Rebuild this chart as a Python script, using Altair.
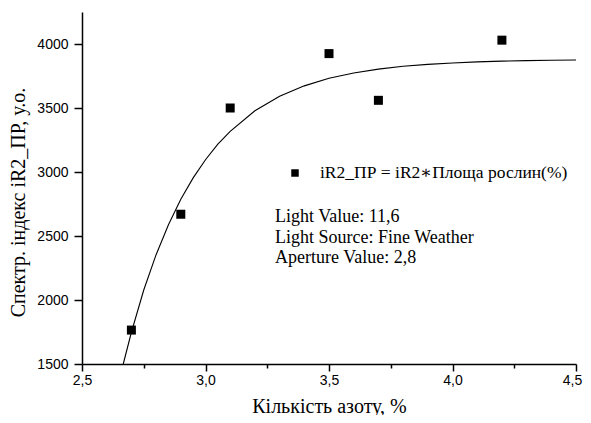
import altair as alt
import pandas as pd

# measured points
nitrogen = [2.7, 2.9, 3.1, 3.5, 3.7, 4.2]
index_ir2 = [1765, 2670, 3500, 3925, 3560, 4030]

# fitted curve
curve_x = [2.667, 2.70, 2.75, 2.80, 2.85, 2.90, 2.95, 3.00, 3.05, 3.10, 3.20, 3.30,
           3.40, 3.50, 3.60, 3.70, 3.80, 3.90, 4.00, 4.10, 4.20, 4.30, 4.40, 4.50]
curve_y = [1500, 1748, 2078, 2354, 2588, 2787, 2954, 3096, 3217, 3318, 3478, 3592,
           3673, 3732, 3774, 3804, 3826, 3841, 3852, 3860, 3866, 3870, 3873, 3875]

x_ticks = [2.5, 2.75, 3.0, 3.25, 3.5, 3.75, 4.0, 4.25, 4.5]
y_ticks = [1500, 1750, 2000, 2250, 2500, 2750, 3000, 3250, 3500, 3750, 4000, 4250]

legend_label = ["iR2_ПР = iR2∗Площа рослин(%)"]
note_lines = ["Light Value: 11,6", "Light Source: Fine Weather", "Aperture Value: 2,8"]

pts = pd.DataFrame({"x": nitrogen, "y": index_ir2})
crv = pd.DataFrame({"x": curve_x, "y": curve_y})

SERIF = "Liberation Serif, DejaVu Serif, serif"
SANS = "Liberation Sans"

x_minor = "abs(datum.value*2 - round(datum.value*2)) > 0.01"
y_minor = "datum.value % 500 != 0"

xscale = alt.Scale(domain=[2.5, 4.5], nice=False, zero=False)
yscale = alt.Scale(domain=[1500, 4250], nice=False, zero=False)

xaxis = alt.Axis(
    title="Кількість азоту, %",
    values=x_ticks,
    labelExpr=f"{x_minor} ? '' : replace(format(datum.value, '.1f'), '.', ',')",
    tickSize={"condition": {"test": x_minor, "value": 4}, "value": 7},
    labelOffset={"condition": {"test": "datum.value > 4.49", "value": -4}, "value": 0},
    grid=False, domainColor="black", tickColor="black", domainWidth=1.5, tickWidth=1.5,
    labelFont=SANS, labelFontSize=14, labelColor="black", labelPadding=2,
    titleFont=SERIF, titleFontSize=20, titleFontWeight="normal", titleColor="black",
    titlePadding=9, labelFlush=False, labelOverlap=False,
)
yaxis = alt.Axis(
    title="Спектр. індекс iR2_ПР, у.о.",
    values=y_ticks,
    labelExpr=f"{y_minor} ? '' : format(datum.value, 'd')",
    tickSize={"condition": {"test": y_minor, "value": 5}, "value": 8},
    grid=False, domainColor="black", tickColor="black", domainWidth=1.5, tickWidth=1.5,
    labelFont=SANS, labelFontSize=14, labelColor="black", labelPadding=6,
    titleFont=SERIF, titleFontSize=20, titleFontWeight="normal", titleColor="black",
    titlePadding=8, titleY=190, labelFlush=False, labelOverlap=False,
)

points = alt.Chart(pts).mark_square(size=81, color="black", opacity=1).encode(
    x=alt.X("x:Q", scale=xscale, axis=xaxis),
    y=alt.Y("y:Q", scale=yscale, axis=yaxis),
)
line = alt.Chart(crv).mark_line(color="black", strokeWidth=1.1).encode(
    x=alt.X("x:Q", scale=xscale),
    y=alt.Y("y:Q", scale=yscale),
)

leg_df = pd.DataFrame({"t": legend_label})
leg_sq = alt.Chart(leg_df).mark_square(size=56, color="black", opacity=1).encode(
    x=alt.value(213), y=alt.value(161)
)
leg_tx = alt.Chart(leg_df).mark_text(
    align="left", baseline="middle", font=SERIF, fontSize=17.5, color="black"
).encode(x=alt.value(238), y=alt.value(161), text="t:N")

notes_df = pd.DataFrame({"t": note_lines, "yy": [205, 226, 246]})
notes = alt.Chart(notes_df).mark_text(
    align="left", baseline="middle", font=SERIF, fontSize=18, color="black"
).encode(x=alt.value(193), y=alt.Y("yy:Q", scale=None), text="t:N")

chart = alt.layer(line, points, leg_sq, leg_tx, notes).properties(
    width=494, height=352,
    autosize=alt.AutoSizeParams(type="none"),
    padding={"left": 74, "top": 4, "right": 7, "bottom": 51},
    background="white",
).configure_view(stroke=None)

chart.save("out.html", embed_options={"renderer": "svg", "actions": False})
